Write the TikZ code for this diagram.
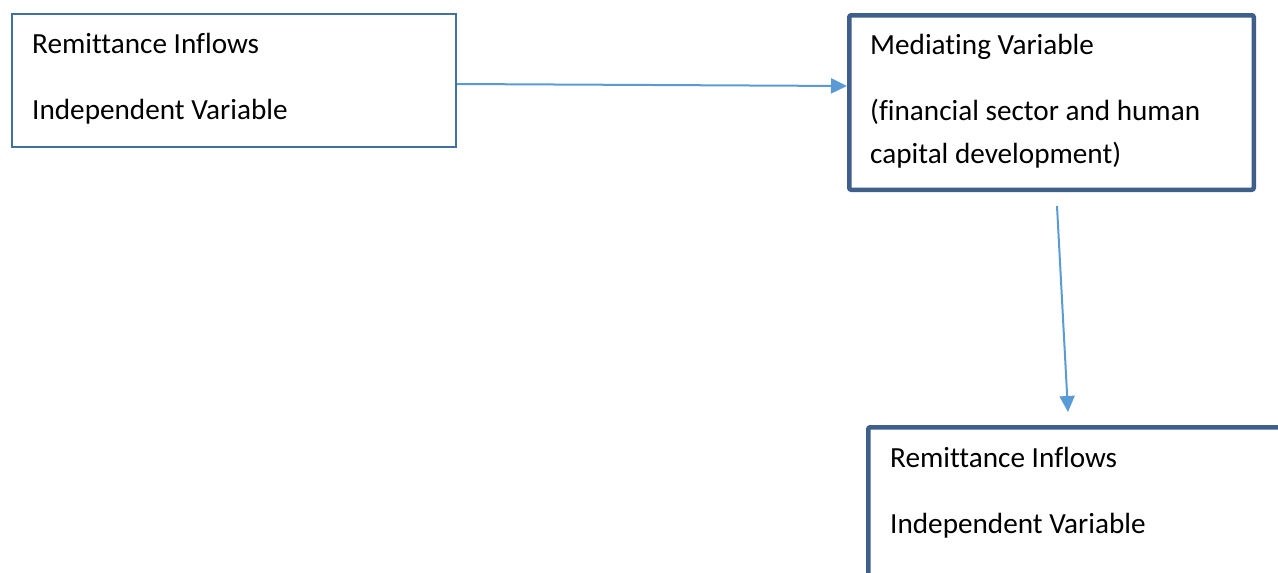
\documentclass[tikz,border=0pt]{standalone}
\usepackage{fontspec}
\setmainfont{Carlito}[Ligatures=NoCommon]
\usetikzlibrary{arrows.meta,positioning}
\definecolor{remitLine}{HTML}{41719C}
\definecolor{remitDeep}{HTML}{3E5F8B}
\definecolor{remitArrow}{HTML}{5B9BD5}

\begin{document}
\begin{tikzpicture}[x=1pt,y=-1pt,font=\fontsize{29.2}{43}\selectfont,
    thinbox/.style={draw=remitLine,line width=2pt,inner sep=0pt,anchor=north west},
    thickbox/.style={draw=remitDeep,line width=4.5pt,rounded corners=2pt,inner sep=0pt,anchor=north west},
    boxtext/.style={anchor=base west,inner sep=0pt,align=left},
    flow/.style={draw=remitArrow,line width=2pt,-{Triangle[length=16pt,width=15pt]}}]
  \path[use as bounding box] (0,0) rectangle (1278,573);
  \clip (0,0) rectangle (1278,573);
  % boxes
  \node[thinbox,minimum width=444pt,minimum height=133pt] (remit) at (11,13) {};
  \node[thickbox,minimum width=404.5pt,minimum height=174.5pt] (mediate) at (847,13) {};
  \node[thickbox,minimum width=500pt,minimum height=250pt] (outcome) at (866,425) {};
  % texts (base = last line)
  \node[boxtext] (remit-txt) at (32,119) {Remittance Inflows\\[23pt]Independent Variable};
  \node[boxtext] (mediate-txt) at (870,163) {Mediating Variable\\[23pt](financial sector and human\\capital development)};
  \node[boxtext] (outcome-txt) at (890,533) {Remittance Inflows\\[23pt]Independent Variable};
  % arrows
  \coordinate (down-from) at (1057,206);
  \coordinate (down-to) at (1068,412);
  \draw[flow] ([yshift=-3.5pt]remit.east) -- ([yshift=16.5pt]mediate.west);
  \draw[flow] (down-from) -- (down-to);
\end{tikzpicture}
\end{document}
